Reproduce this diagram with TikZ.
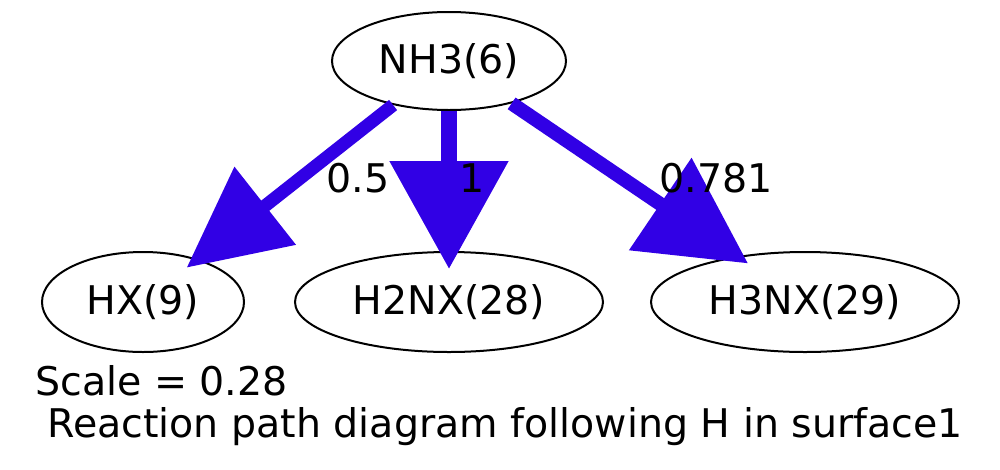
\documentclass[tikz,border=0pt]{standalone}
\usepackage{fontspec}
\setmainfont{DejaVu Sans}
\usetikzlibrary{shapes.geometric,arrows.meta}
\definecolor{edgeblue}{RGB}{49,0,229}
\begin{document}
\begin{tikzpicture}[x=1pt,y=-1pt,
  every node/.style={font=\fontsize{39.5}{47}\selectfont},
  species/.style={draw=black,line width=2pt,ellipse,inner sep=0pt,minimum height=100pt},
  flux/.style={draw=edgeblue,line cap=butt}
]
\useasboundingbox (0,0) rectangle (1000,469);
\node[species,minimum width=234pt,minimum height=98pt] (nh3) at (449,61) {NH3(6)};
\node[species,minimum width=202pt] (hx) at (143,302) {HX(9)};
\node[species,minimum width=308pt] (h2nx) at (449,302) {H2NX(28)};
\node[species,minimum width=308pt] (h3nx) at (805,302) {H3NX(29)};
\draw[flux,line width=13pt,shorten >=-14pt,-{Triangle[length=100pt,width=96pt]}] (nh3) -- (hx);
\draw[flux,line width=16pt,shorten >=-18pt,-{Triangle[length=108pt,width=115pt]}] (nh3) -- (h2nx);
\draw[flux,line width=14pt,shorten >=-13pt,-{Triangle[length=106pt,width=108pt]}] (nh3) -- (h3nx);
\node[anchor=base,inner sep=0pt] (l1) at (358,192) {0.5};
\node[anchor=base,inner sep=0pt] (l2) at (472,192) {1};
\node[anchor=base,inner sep=0pt] (l3) at (716,192) {0.781};
\node[anchor=base west,inner sep=0pt] (scale) at (35,395) {Scale = 0.28};
\node[anchor=base,inner sep=0pt] (title) at (505,437) {Reaction path diagram following H in surface1};
\end{tikzpicture}
\end{document}
